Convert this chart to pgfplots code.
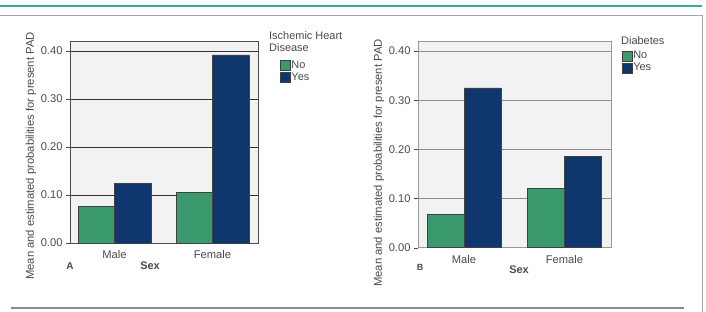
\documentclass[border=0pt]{standalone}
\usepackage{fontspec}
\setmainfont{Liberation Sans}
\usepackage{pgfplots}
\pgfplotsset{compat=1.18}

\definecolor{spssgreen}{HTML}{3A9A6E}
\definecolor{spssnavy}{HTML}{10366E}
\definecolor{plotbg}{HTML}{F2F2F2}
\definecolor{txt}{HTML}{4A4A4A}
\definecolor{teal}{HTML}{3AAA9C}

\pgfplotsset{
  panel/.style={
    scale only axis,
    anchor=south west,
    ybar,
    ymin=0,
    xtick={0,1},
    xticklabels={Male,Female},
    ytick={0,0.1,0.2,0.3,0.4},
    ytick pos=left,
    yticklabel style={/pgf/number format/fixed,/pgf/number format/fixed zerofill,/pgf/number format/precision=2},
    /pgf/number format/assume math mode=true,
    ymajorgrids,
    axis background/.style={fill=plotbg},
    tick label style={font=\fontsize{11.2}{12}\selectfont, text=txt},
    xtick style={draw=none},
    ytick style={draw=txt},
    tick align=outside,
    major tick length=4bp,
    legend cell align=left,
    legend style={draw=none, fill=none, inner sep=0pt, row sep=1.5bp,
      font=\fontsize{11}{12}\selectfont, text=txt, nodes={inner sep=0.6bp}},
    legend image code/.code={\fill[##1] (0bp,-5bp) rectangle (10bp,5bp);},
  },
}

\begin{document}
\begin{tikzpicture}
\useasboundingbox (0,0) rectangle (706bp,-312bp);

% page rules
\draw[teal, line width=1.4bp] (0bp,-6bp) -- (702bp,-6bp);
\draw[black!35, line width=1bp] (0bp,-15bp) -- (702bp,-15bp) -- (702bp,-312bp);
\draw[black!45, line width=1.3bp] (11bp,-308bp) -- (684bp,-308bp);

% Panel A: ischemic heart disease
\begin{axis}[panel,
  at={(70bp,-243bp)}, width=188bp, height=202bp,
  ymax=0.421, xmin=-0.454, xmax=1.464,
  bar width=0.372,
  axis line style={draw=black!70, line width=0.8bp},
  grid style={draw=black!80, line width=0.9bp},
  legend style={at={(axis description cs:1.118,0.905)}, anchor=north west},
]
\addplot[fill=spssgreen, draw=black!75, line width=0.5bp, bar shift=-0.186]
  coordinates {(0,0.077) (1,0.106)};
\addplot[fill=spssnavy, draw=black!75, line width=0.5bp, bar shift=0.186]
  coordinates {(0,0.124) (1,0.392)};
\legend{No,Yes}
\end{axis}
\node[anchor=north west, align=left, inner sep=0pt, font=\fontsize{11}{12}\selectfont, text=txt] at (269bp,-31bp) {Ischemic Heart\\Disease};
\node[rotate=90, font=\fontsize{11.3}{12}\selectfont, text=txt] at (31bp,-156bp) {Mean and estimated probabilities for present PAD};
\node[font=\bfseries\fontsize{10}{12}\selectfont, text=txt] at (70bp,-266bp) {A};
\node[font=\bfseries\fontsize{11}{12}\selectfont, text=txt] at (150bp,-266bp) {Sex};

% Panel B: diabetes
\begin{axis}[panel,
  at={(418bp,-247.7bp)}, width=193bp, height=206bp,
  ymax=0.419, xmin=-0.458, xmax=1.463,
  bar width=0.368,
  axis line style={draw=black!40, line width=0.8bp},
  grid style={draw=black!45, line width=0.8bp},
  legend style={at={(axis description cs:1.057,0.958)}, anchor=north west},
]
\addplot[fill=spssgreen, draw=black!75, line width=0.5bp, bar shift=-0.184]
  coordinates {(0,0.068) (1,0.120)};
\addplot[fill=spssnavy, draw=black!75, line width=0.5bp, bar shift=0.184]
  coordinates {(0,0.325) (1,0.186)};
\legend{No,Yes}
\end{axis}
\node[anchor=north west, align=left, inner sep=0pt, font=\fontsize{11}{12}\selectfont, text=txt] at (621bp,-36bp) {Diabetes};
\node[rotate=90, font=\fontsize{11.3}{12}\selectfont, text=txt] at (379bp,-163bp) {Mean and estimated probabilities for present PAD};
\node[font=\bfseries\fontsize{9}{12}\selectfont, text=txt] at (420bp,-267bp) {B};
\node[font=\bfseries\fontsize{11}{12}\selectfont, text=txt] at (519bp,-270bp) {Sex};
\end{tikzpicture}
\end{document}
